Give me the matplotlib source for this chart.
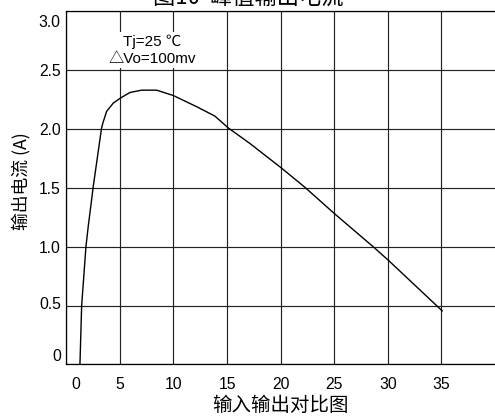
import matplotlib
matplotlib.use("Agg")
import matplotlib.pyplot as plt
from matplotlib.transforms import ScaledTranslation

plt.rcParams['font.family'] = ['Liberation Sans', 'Noto Sans CJK SC', 'DejaVu Sans']

# Data
ratio = [1.27, 1.35, 1.43, 1.83, 2.04, 2.36, 2.51, 3.29, 3.44, 3.76, 4.38, 5.0,
         5.93, 7.02, 8.42, 9.97, 12.15, 13.86, 15.1, 17.13, 20.05, 22.26, 25.03,
         28.63, 30.07, 35.07]
current = [0.0, 0.25, 0.5, 1.0, 1.17, 1.40, 1.51, 2.01, 2.06, 2.15, 2.22, 2.26,
           2.31, 2.33, 2.33, 2.285, 2.19, 2.11, 2.01, 1.877, 1.67, 1.505, 1.28,
           1.00, 0.883, 0.455]
xticks = [0, 5, 10, 15, 20, 25, 30, 35]
yticks = [0, 0.5, 1.0, 1.5, 2.0, 2.5, 3.0]
ytick_labels = ['0', '0.5', '1.0', '1.5', '2.0', '2.5', '3.0']
title = '图10  峰值输出电流'
xlabel = '输入输出对比图'
ylabel = '输出电流 (A)'
note = 'Tj=25 ℃\n△Vo=100mv'

DPI = 100
fig = plt.figure(figsize=(4.95, 4.17), dpi=DPI)
ax = fig.add_axes([0.134, 0.1261, 0.866, 0.8468])

ax.set_xlim(0, 40)
ax.set_ylim(0, 3.0)
ax.set_xticks(xticks)
ax.set_xticklabels([str(v) for v in xticks])
ax.set_yticks(yticks)
ax.set_yticklabels(ytick_labels)

ax.grid(True, color='#222222', linewidth=0.85)
ax.set_axisbelow(True)
ax.tick_params(axis='both', length=0, labelsize=11.3, colors='black')
ax.tick_params(axis='x', pad=9)
ax.tick_params(axis='y', pad=4)

for s in ['left', 'bottom', 'top']:
    ax.spines[s].set_color('black')
    ax.spines[s].set_linewidth(0.9)
ax.spines['right'].set_visible(False)

ax.plot(ratio, current, color='black', linewidth=1.0, zorder=3)

ax.text(8.0, 2.67, note, ha='center', va='center', fontsize=11.0,
        linespacing=1.25, zorder=4,
        bbox=dict(facecolor='white', edgecolor='none', pad=2.0))

ax.set_xlabel(xlabel, fontsize=14, labelpad=2.5, family=['Noto Sans CJK SC'])
ax.set_ylabel(ylabel, fontsize=12.8,
              family=['Noto Sans CJK SC', 'Liberation Sans'])
ax.yaxis.set_label_coords(-0.083, 0.52)
fig.text(0.501, 0.988, title, ha='center', va='baseline', fontsize=16,
         family=['Noto Sans CJK SC', 'Liberation Sans'])

# nudge end tick labels like the reference
ylabs = ax.get_yticklabels()
ylabs[0].set_transform(ylabs[0].get_transform() + ScaledTranslation(0, 9 / DPI, fig.dpi_scale_trans))
ylabs[-1].set_transform(ylabs[-1].get_transform() + ScaledTranslation(0, -10 / DPI, fig.dpi_scale_trans))
ylabs[1].set_transform(ylabs[1].get_transform() + ScaledTranslation(0, 3 / DPI, fig.dpi_scale_trans))
xlabs = ax.get_xticklabels()
xlabs[0].set_transform(xlabs[0].get_transform() + ScaledTranslation(9 / DPI, 0, fig.dpi_scale_trans))

fig.savefig('out.png', dpi=DPI)
